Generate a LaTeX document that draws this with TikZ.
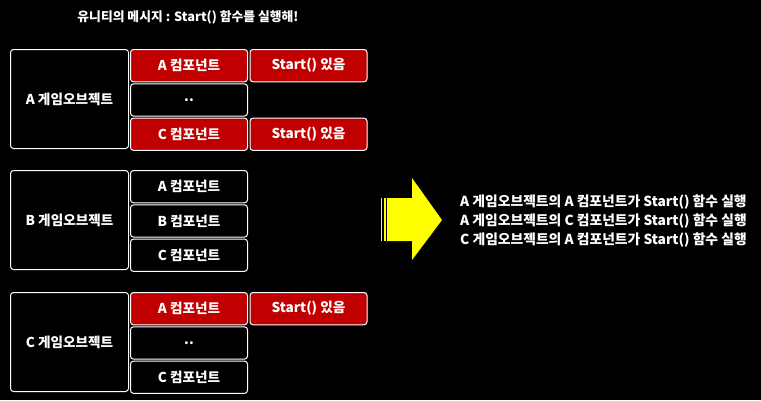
\documentclass[tikz,border=0pt]{standalone}
\usepackage{fontspec}
\setmainfont{Noto Sans CJK KR}
\usepackage{xcolor}
\usetikzlibrary{positioning}

\definecolor{boxred}{RGB}{192,0,0}
\definecolor{arrowyellow}{RGB}{255,255,0}

\begin{document}
\begin{tikzpicture}[
  x=1pt, y=-1pt,
  node distance=1pt and 1.5pt,
  cell/.style={draw=white, line width=1pt, rounded corners=3pt, text=white, inner sep=0pt,
    font=\bfseries\fontsize{13.6}{15}\selectfont, minimum width=117pt, minimum height=32.3pt},
  objbox/.style={cell, fill=black, minimum width=118pt, minimum height=99pt},
  redcell/.style={cell, fill=boxred},
  blackcell/.style={cell, fill=black},
  note/.style={text=white, inner sep=0pt, anchor=west, font=\bfseries\fontsize{13.8}{15}\selectfont}
]
\fill[black] (0,0) rectangle (761,400);

\node[text=white, inner sep=0pt, font=\bfseries\fontsize{12.8}{15}\selectfont] (title) at (188,17) {유니티의 메시지 : Start() 함수를 실행해!};

% A game object
\node[objbox, anchor=north west] (objA) at (10,49) {A 게임오브젝트};
\node[redcell, anchor=north west] (aA) at ([xshift=1pt]objA.north east) {A 컴포넌트};
\node[blackcell, below=of aA] (aDots) {..};
\node[redcell, below=of aDots] (aC) {C 컴포넌트};
\node[redcell, right=of aA] (aAstart) {Start() 있음};
\node[redcell, right=of aC] (aCstart) {Start() 있음};

% B game object
\node[objbox, anchor=north west] (objB) at (10,170) {B 게임오브젝트};
\node[blackcell, anchor=north west] (bA) at ([xshift=1pt]objB.north east) {A 컴포넌트};
\node[blackcell, below=of bA] (bB) {B 컴포넌트};
\node[blackcell, below=of bB] (bC) {C 컴포넌트};

% C game object
\node[objbox, anchor=north west] (objC) at (10,292) {C 게임오브젝트};
\node[redcell, anchor=north west] (cA) at ([xshift=1pt]objC.north east) {A 컴포넌트};
\node[blackcell, below=of cA] (cDots) {..};
\node[blackcell, below=of cDots] (cC) {C 컴포넌트};
\node[redcell, right=of cA] (cAstart) {Start() 있음};

% arrow
\fill[arrowyellow] (387,198) -- (412,198) -- (412,178) -- (442,220) -- (412,260) -- (412,241) -- (387,241) -- cycle;
\fill[arrowyellow] (381,198) rectangle (382,241);
\fill[arrowyellow] (384,198) rectangle (386,241);

% result
\node[note] (run1) at (460,202) {A 게임오브젝트의 A 컴포넌트가 Start() 함수 실행};
\node[note] (run2) at (460,221) {A 게임오브젝트의 C 컴포넌트가 Start() 함수 실행};
\node[note] (run3) at (460,240) {C 게임오브젝트의 A 컴포넌트가 Start() 함수 실행};
\end{tikzpicture}
\end{document}
